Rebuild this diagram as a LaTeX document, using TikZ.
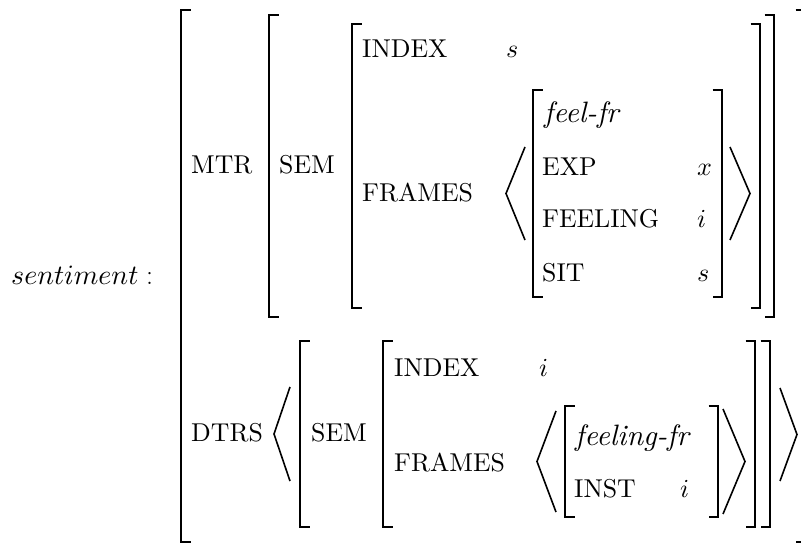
\RequirePackage{fix-cm}
\documentclass[tikz,border=0pt]{standalone}
\usepackage{fontspec}
\setmainfont{lmroman10-regular.otf}[ItalicFont=lmroman10-italic.otf, BoldFont=lmroman10-bold.otf]
\DeclareFontFamily{OML}{cmm}{\skewchar\font127}
\DeclareFontShape{OML}{cmm}{m}{it}{<->cmmi10}{}
\tikzset{
  attr/.style={anchor=base west, inner sep=0pt, font=\fontsize{25.8}{30}\selectfont},
  val/.style={anchor=base west, inner sep=0pt, font=\fontsize{26}{30}\selectfont},
  typ/.style={anchor=base west, inner sep=0pt, font=\fontsize{29.5}{34}\selectfont\itshape},
  lbl/.style={anchor=base west, inner sep=0pt, font=\fontsize{28}{34}\selectfont},
  brk/.style={line width=2.4pt, line join=miter, line cap=butt},
  ang/.style={line width=1.6pt, line join=miter, line cap=butt},
}
\newcommand\lbk[3]{\draw[brk] (#1+9.5,#2) -- (#1,#2) -- (#1,#3) -- (#1+9.5,#3);}
\newcommand\rbk[3]{\draw[brk] (#1-9.5,#2) -- (#1,#2) -- (#1,#3) -- (#1-9.5,#3);}
\newcommand\lang[4]{\draw[ang] (#1+#2,#3) -- (#1,#3/2+#4/2) -- (#1+#2,#4);}
\newcommand\rang[4]{\draw[ang] (#1-#2,#3) -- (#1,#3/2+#4/2) -- (#1-#2,#4);}
\begin{document}
\begin{tikzpicture}[x=1pt,y=-1pt]
\fill[white] (0,0) rectangle (801,545);
\useasboundingbox (0,0) rectangle (801,545);
% label
\node[lbl] (sent) at (11,285) {$sentiment:$};
% brackets, left
\lbk{181}{10}{542}
\lbk{269}{15}{317}
\lbk{352}{24}{308}
\lbk{533}{90}{297}
\lbk{300}{341}{527}
\lbk{383}{341}{527}
\lbk{565}{406}{517}
% brackets, right
\rbk{722}{90}{297}
\rbk{760}{24}{308}
\rbk{774}{15}{317}
\rbk{718}{406}{517}
\rbk{755}{341}{527}
\rbk{770}{341}{527}
\rbk{805}{10}{542}
% angle brackets
\lang{506}{19}{147}{240}
\rang{750}{20}{147}{240}
\lang{274}{16}{387}{481}
\lang{537}{19}{411}{512}
\rang{745}{22}{409}{514}
\rang{797}{17}{388}{481}
% MTR part
\node[attr] (mtr) at (191,174) {MTR};
\node[attr] (sem1) at (279,174) {SEM};
\node[attr] (idx1) at (362,58) {INDEX};
\node[val] (s1) at (506,58) {$s$};
\node[attr] (fr1) at (362,202) {FRAMES};
\node[typ] (feel) at (544,123) {feel-fr};
\node[attr] (exp) at (542,176) {EXP};
\node[val] (x1) at (697,176) {$x$};
\node[attr] (feeling) at (542,228) {FEELING};
\node[val] (i1) at (697,228) {$i$};
\node[attr] (sit) at (542,282) {SIT};
\node[val] (s2) at (697,282) {$s$};
% DTRS part
\node[attr] (dtrs) at (191,442) {DTRS};
\node[attr] (sem2) at (311,442) {SEM};
\node[attr] (idx2) at (394,377) {INDEX};
\node[val] (i2) at (539,377) {$i$};
\node[attr] (fr2) at (394,471) {FRAMES};
\node[typ] (feelingfr) at (575,445) {feeling-fr};
\node[attr] (inst) at (574,497) {INST};
\node[val] (i3) at (680,497) {$i$};
\end{tikzpicture}
\end{document}
